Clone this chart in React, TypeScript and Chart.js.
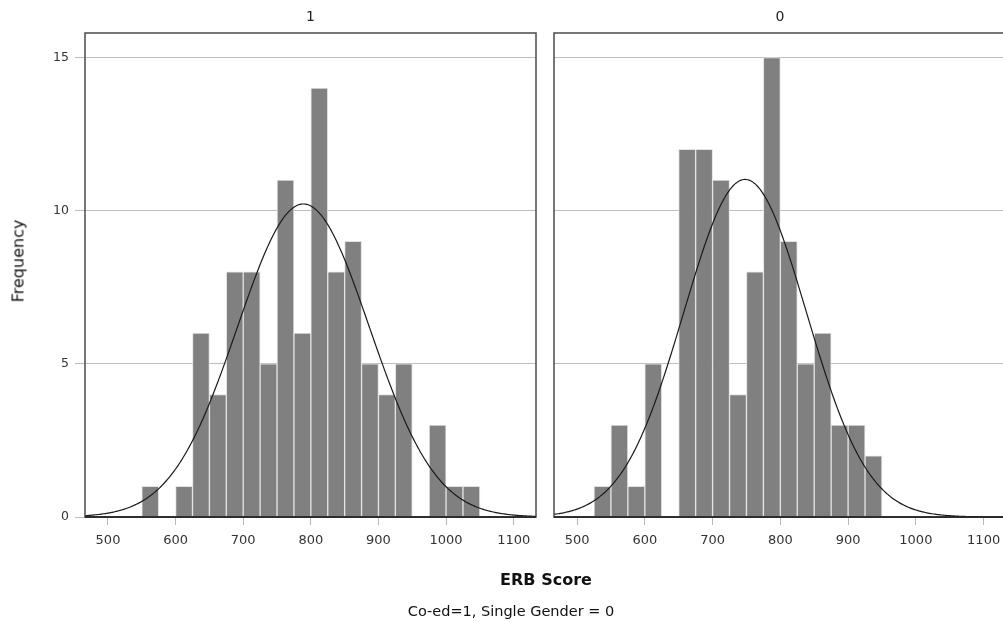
import React, { useEffect, useRef } from "react";
import { Chart, registerables } from "chart.js";

Chart.register(...registerables);

// ---- data ----
const BIN_WIDTH = 25;
const BIN_STARTS = [525, 550, 575, 600, 625, 650, 675, 700, 725, 750, 775, 800, 825, 850, 875, 900, 925, 950, 975, 1000, 1025];
const COED_COUNTS = [0, 1, 0, 1, 6, 4, 8, 8, 5, 11, 6, 14, 8, 9, 5, 4, 5, 0, 3, 1, 1];
const SINGLE_COUNTS = [1, 3, 1, 5, 0, 12, 12, 11, 4, 8, 15, 9, 5, 6, 3, 3, 2, 0, 0, 0, 0];
const PANEL_TITLES = ["1", "0"];
const FIT_MEANS = [789, 748];
const FIT_SDS = [97.6, 90.5];
const X_TICKS = [500, 600, 700, 800, 900, 1000, 1100];
const Y_TICKS = [0, 5, 10, 15];
const X_MIN = 466;
const X_MAX = 1133;
const Y_MAX = 15.8;

const FONT = "'DejaVu Sans', 'Liberation Sans', sans-serif";

function normalCurve(counts: number[], mean: number, sd: number) {
  const n = counts.reduce((a, b) => a + b, 0);
  const pts: { x: number; y: number }[] = [];
  for (let x = X_MIN; x <= X_MAX; x += 2) {
    const z = (x - mean) / sd;
    pts.push({ x, y: (n * BIN_WIDTH * Math.exp(-0.5 * z * z)) / (sd * Math.sqrt(2 * Math.PI)) });
  }
  return pts;
}

const framePlugin = {
  id: "frame",
  afterDraw(chart: any, _args: any, opts: any) {
    const { ctx, chartArea } = chart;
    const { left, right, top, bottom } = chartArea;
    ctx.save();
    ctx.strokeStyle = "#555";
    ctx.lineWidth = 1.6;
    ctx.strokeRect(left, top, right - left, bottom - top);
    ctx.strokeStyle = "#1a1a1a";
    ctx.beginPath();
    ctx.moveTo(left, bottom);
    ctx.lineTo(right, bottom);
    ctx.stroke();
    ctx.fillStyle = "#222";
    ctx.font = `14px ${FONT}`;
    ctx.textAlign = "center";
    ctx.textBaseline = "middle";
    ctx.fillText(opts.title, (left + right) / 2, 17);
    ctx.restore();
  },
};

function Panel(props: {
  counts: number[];
  title: string;
  mean: number;
  sd: number;
  showY: boolean;
  left: number;
  width: number;
  yWidth: number;
}) {
  const ref = useRef<HTMLCanvasElement | null>(null);
  useEffect(() => {
    if (!ref.current) return;
    const barData = BIN_STARTS.map((s, i) => ({ x: s + BIN_WIDTH / 2, y: props.counts[i] }));
    const chart = new Chart(ref.current, {
      type: "bar",
      data: {
        datasets: [
          {
            type: "line",
            data: normalCurve(props.counts, props.mean, props.sd),
            borderColor: "#1a1a1a",
            borderWidth: 1.2,
            pointRadius: 0,
            tension: 0,
            order: 0,
          } as any,
          {
            type: "bar",
            data: barData,
            backgroundColor: "#808080",
            borderColor: "rgba(225,225,225,0.95)",
            borderWidth: 1,
            barPercentage: 1,
            categoryPercentage: 1,
            grouped: false,
            order: 1,
          } as any,
        ],
      },
      plugins: [framePlugin],
      options: {
        animation: false,
        responsive: false,
        maintainAspectRatio: false,
        layout: { padding: { top: 33, right: 9, left: 0, bottom: 0 } },
        plugins: {
          legend: { display: false },
          tooltip: { enabled: false },
          frame: { title: props.title },
        } as any,
        scales: {
          x: {
            type: "linear",
            min: X_MIN,
            max: X_MAX,
            offset: false,
            afterBuildTicks: (axis: any) => {
              axis.ticks = X_TICKS.map((v) => ({ value: v }));
            },
            afterFit: (axis: any) => {
              axis.height = 105;
            },
            grid: {
              drawOnChartArea: false,
              drawTicks: true,
              tickLength: 8,
              color: "#b8b8b8",
              offset: false,
            },
            border: { display: false },
            ticks: {
              font: { family: FONT, size: 13 },
              color: "#333",
              padding: 8,
              maxRotation: 0,
              autoSkip: false,
              callback: (v: any) => String(v),
            },
          },
          y: {
            type: "linear",
            min: 0,
            max: Y_MAX,
            afterBuildTicks: (axis: any) => {
              axis.ticks = Y_TICKS.map((v) => ({ value: v }));
            },
            afterFit: (axis: any) => {
              axis.width = props.yWidth;
            },
            grid: {
              drawOnChartArea: true,
              drawTicks: props.showY,
              tickLength: 10,
              color: "#bdbdbd",
            },
            border: { display: false },
            ticks: {
              display: props.showY,
              font: { family: FONT, size: 12.5 },
              color: "#333",
              padding: 6,
              callback: (v: any) => String(v),
            },
          },
        },
      } as any,
    });
    return () => chart.destroy();
  }, []);
  return (
    <canvas
      ref={ref}
      width={props.width}
      height={622}
      style={{ position: "absolute", left: props.left, top: 0, width: props.width, height: 622 }}
    />
  );
}

export default function App() {
  return (
    <div
      style={{
        position: "fixed",
        left: 0,
        top: 0,
        width: 1003,
        height: 622,
        overflow: "hidden",
        background: "#fff",
        fontFamily: FONT,
        color: "#111",
      }}
    >
      <Panel counts={COED_COUNTS} title={PANEL_TITLES[0]} mean={FIT_MEANS[0]} sd={FIT_SDS[0]} showY={true} left={0} width={545} yWidth={85} />
      <Panel counts={SINGLE_COUNTS} title={PANEL_TITLES[1]} mean={FIT_MEANS[1]} sd={FIT_SDS[1]} showY={false} left={545} width={470} yWidth={9} />
      <div
        style={{
          position: "absolute",
          left: 18,
          top: 261,
          transform: "translate(-50%, -50%) rotate(-90deg)",
          whiteSpace: "nowrap",
          fontSize: 16,
        }}
      >
        Frequency
      </div>
      <div
        style={{
          position: "absolute",
          left: 546,
          top: 579,
          transform: "translate(-50%, -50%)",
          whiteSpace: "nowrap",
          fontSize: 16,
          fontWeight: "bold",
        }}
      >
        ERB Score
      </div>
      <div
        style={{
          position: "absolute",
          left: 511,
          top: 611,
          transform: "translate(-50%, -50%)",
          whiteSpace: "nowrap",
          fontSize: 14.5,
        }}
      >
        Co-ed=1, Single Gender = 0
      </div>
    </div>
  );
}
